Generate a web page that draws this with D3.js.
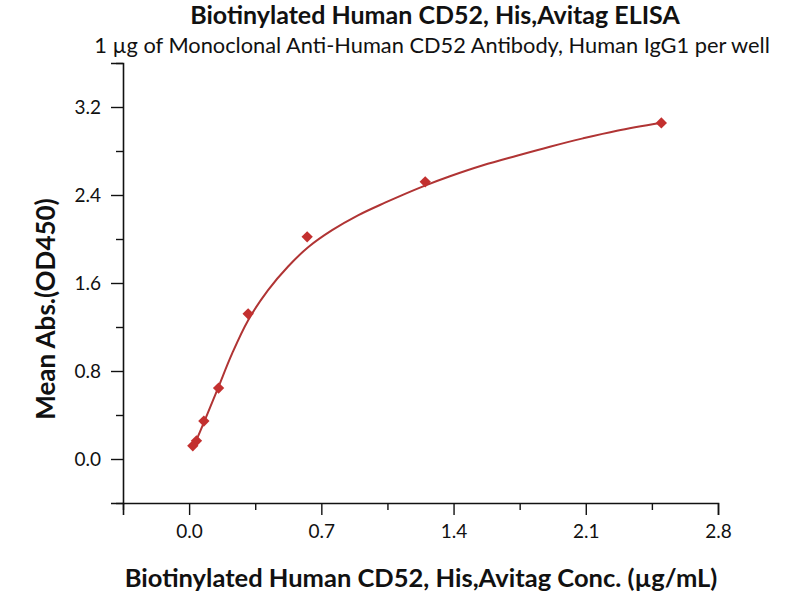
<!DOCTYPE html>
<html>
<head>
<meta charset="utf-8">
<script src="https://cdn.jsdelivr.net/npm/d3@7"></script>
<style>
  body { margin: 0; background: #fff; }
  text { font-family: Lato, "Open Sans", sans-serif; fill: #111; }
</style>
</head>
<body>
<svg id="chart"></svg>
<script>
// measured points (conc in ug/mL, mean OD450)
const conc = [2.5, 1.25, 0.625, 0.3125, 0.156, 0.078, 0.039, 0.0195];
const od = [3.055, 2.52, 2.02, 1.32, 0.645, 0.345, 0.165, 0.12];

// fitted curve
const fitX = [0.0195, 0.032, 0.085, 0.153, 0.228, 0.312, 0.418, 0.524, 0.630, 0.757,
    0.894, 1.037, 1.116, 1.249, 1.381, 1.556, 1.735, 1.910, 2.085, 2.265, 2.5];
const fitY = [0.12, 0.15, 0.36, 0.645, 0.96, 1.26, 1.535, 1.75, 1.925, 2.08,
    2.215, 2.33, 2.39, 2.485, 2.57, 2.67, 2.757, 2.839, 2.915, 2.985, 3.057];

const xMajor = [0.0, 0.7, 1.4, 2.1, 2.8];
const xMinor = [-0.35, 0.35, 1.05, 1.75, 2.45];
const yMajor = [0.0, 0.8, 1.6, 2.4, 3.2];
const yMinor = [-0.4, 0.4, 1.2, 2.0, 2.8, 3.6];

const title = "Biotinylated Human CD52, His,Avitag ELISA";
const subtitle = "1 \u00b5g of Monoclonal Anti-Human CD52 Antibody, Human IgG1 per well";
const xTitle = "Biotinylated Human CD52, His,Avitag Conc. (\u00b5g/mL)";
const yTitle = "Mean Abs.(OD450)";

const width = 800, height = 600;
const margin = { top: 63, right: 82, bottom: 97, left: 123 };

const svg = d3.select('#chart')
    .attr('width', width)
    .attr('height', height);

const xScale = d3.scaleLinear()
    .domain([-0.35, 2.8])
    .range([margin.left, width - margin.right]);

const yScale = d3.scaleLinear()
    .domain([-0.4, 3.6])
    .range([height - margin.bottom, margin.top]);

// axes: major ticks with labels, minor ticks without
const xAxisG = svg.append('g')
    .attr('transform', `translate(0,${height - margin.bottom})`);
xAxisG.call(d3.axisBottom(xScale).tickValues(xMajor).tickSize(12).tickPadding(10)
    .tickFormat(d3.format('.1f')));
xAxisG.append('g').call(d3.axisBottom(xScale).tickValues(xMinor).tickSize(7)
    .tickFormat(''))
    .call(g => g.select('.domain').remove());

const yAxisG = svg.append('g')
    .attr('transform', `translate(${margin.left},0)`);
yAxisG.call(d3.axisLeft(yScale).tickValues(yMajor).tickSize(12).tickPadding(10)
    .tickFormat(d3.format('.1f')));
yAxisG.append('g').call(d3.axisLeft(yScale).tickValues(yMinor).tickSize(7)
    .tickFormat(''))
    .call(g => g.select('.domain').remove());

svg.selectAll('.domain').attr('stroke', '#111').attr('stroke-width', 1.6);
svg.selectAll('.tick line').attr('stroke', '#111').attr('stroke-width', 1.4);
svg.selectAll('.tick text')
    .style('font-family', 'Lato, sans-serif')
    .style('font-size', '19px')
    .attr('fill', '#222');

// fitted curve
const fit = fitX.map((x, i) => [x, fitY[i]]);
const line = d3.line()
    .x(d => xScale(d[0]))
    .y(d => yScale(d[1]))
    .curve(d3.curveCatmullRom.alpha(0.5));

svg.append('path')
    .datum(fit)
    .attr('fill', 'none')
    .attr('stroke', '#b03434')
    .attr('stroke-width', 2)
    .attr('d', line);

// diamond markers
const points = conc.map((c, i) => ({ c: c, v: od[i] }));
svg.selectAll('.pt')
    .data(points)
    .enter()
    .append('path')
    .attr('class', 'pt')
    .attr('d', d3.symbol().type(d3.symbolSquare).size(64))
    .attr('transform', d => `translate(${xScale(d.c)},${yScale(d.v)}) rotate(45)`)
    .attr('fill', '#c3302f');

// titles
svg.append('text')
    .attr('x', 435).attr('y', 24)
    .attr('text-anchor', 'middle')
    .style('font-size', '25px').style('font-weight', 'bold')
    .text(title);

svg.append('text')
    .attr('x', 432).attr('y', 53)
    .attr('text-anchor', 'middle')
    .style('font-size', '21.8px')
    .text(subtitle);

svg.append('text')
    .attr('x', 421).attr('y', 587)
    .attr('text-anchor', 'middle')
    .style('font-size', '25.5px').style('font-weight', 'bold')
    .text(xTitle);

svg.append('text')
    .attr('transform', 'translate(55,309) rotate(-90)')
    .attr('text-anchor', 'middle')
    .style('font-size', '26px').style('font-weight', 'bold')
    .text(yTitle);
</script>
</body>
</html>
